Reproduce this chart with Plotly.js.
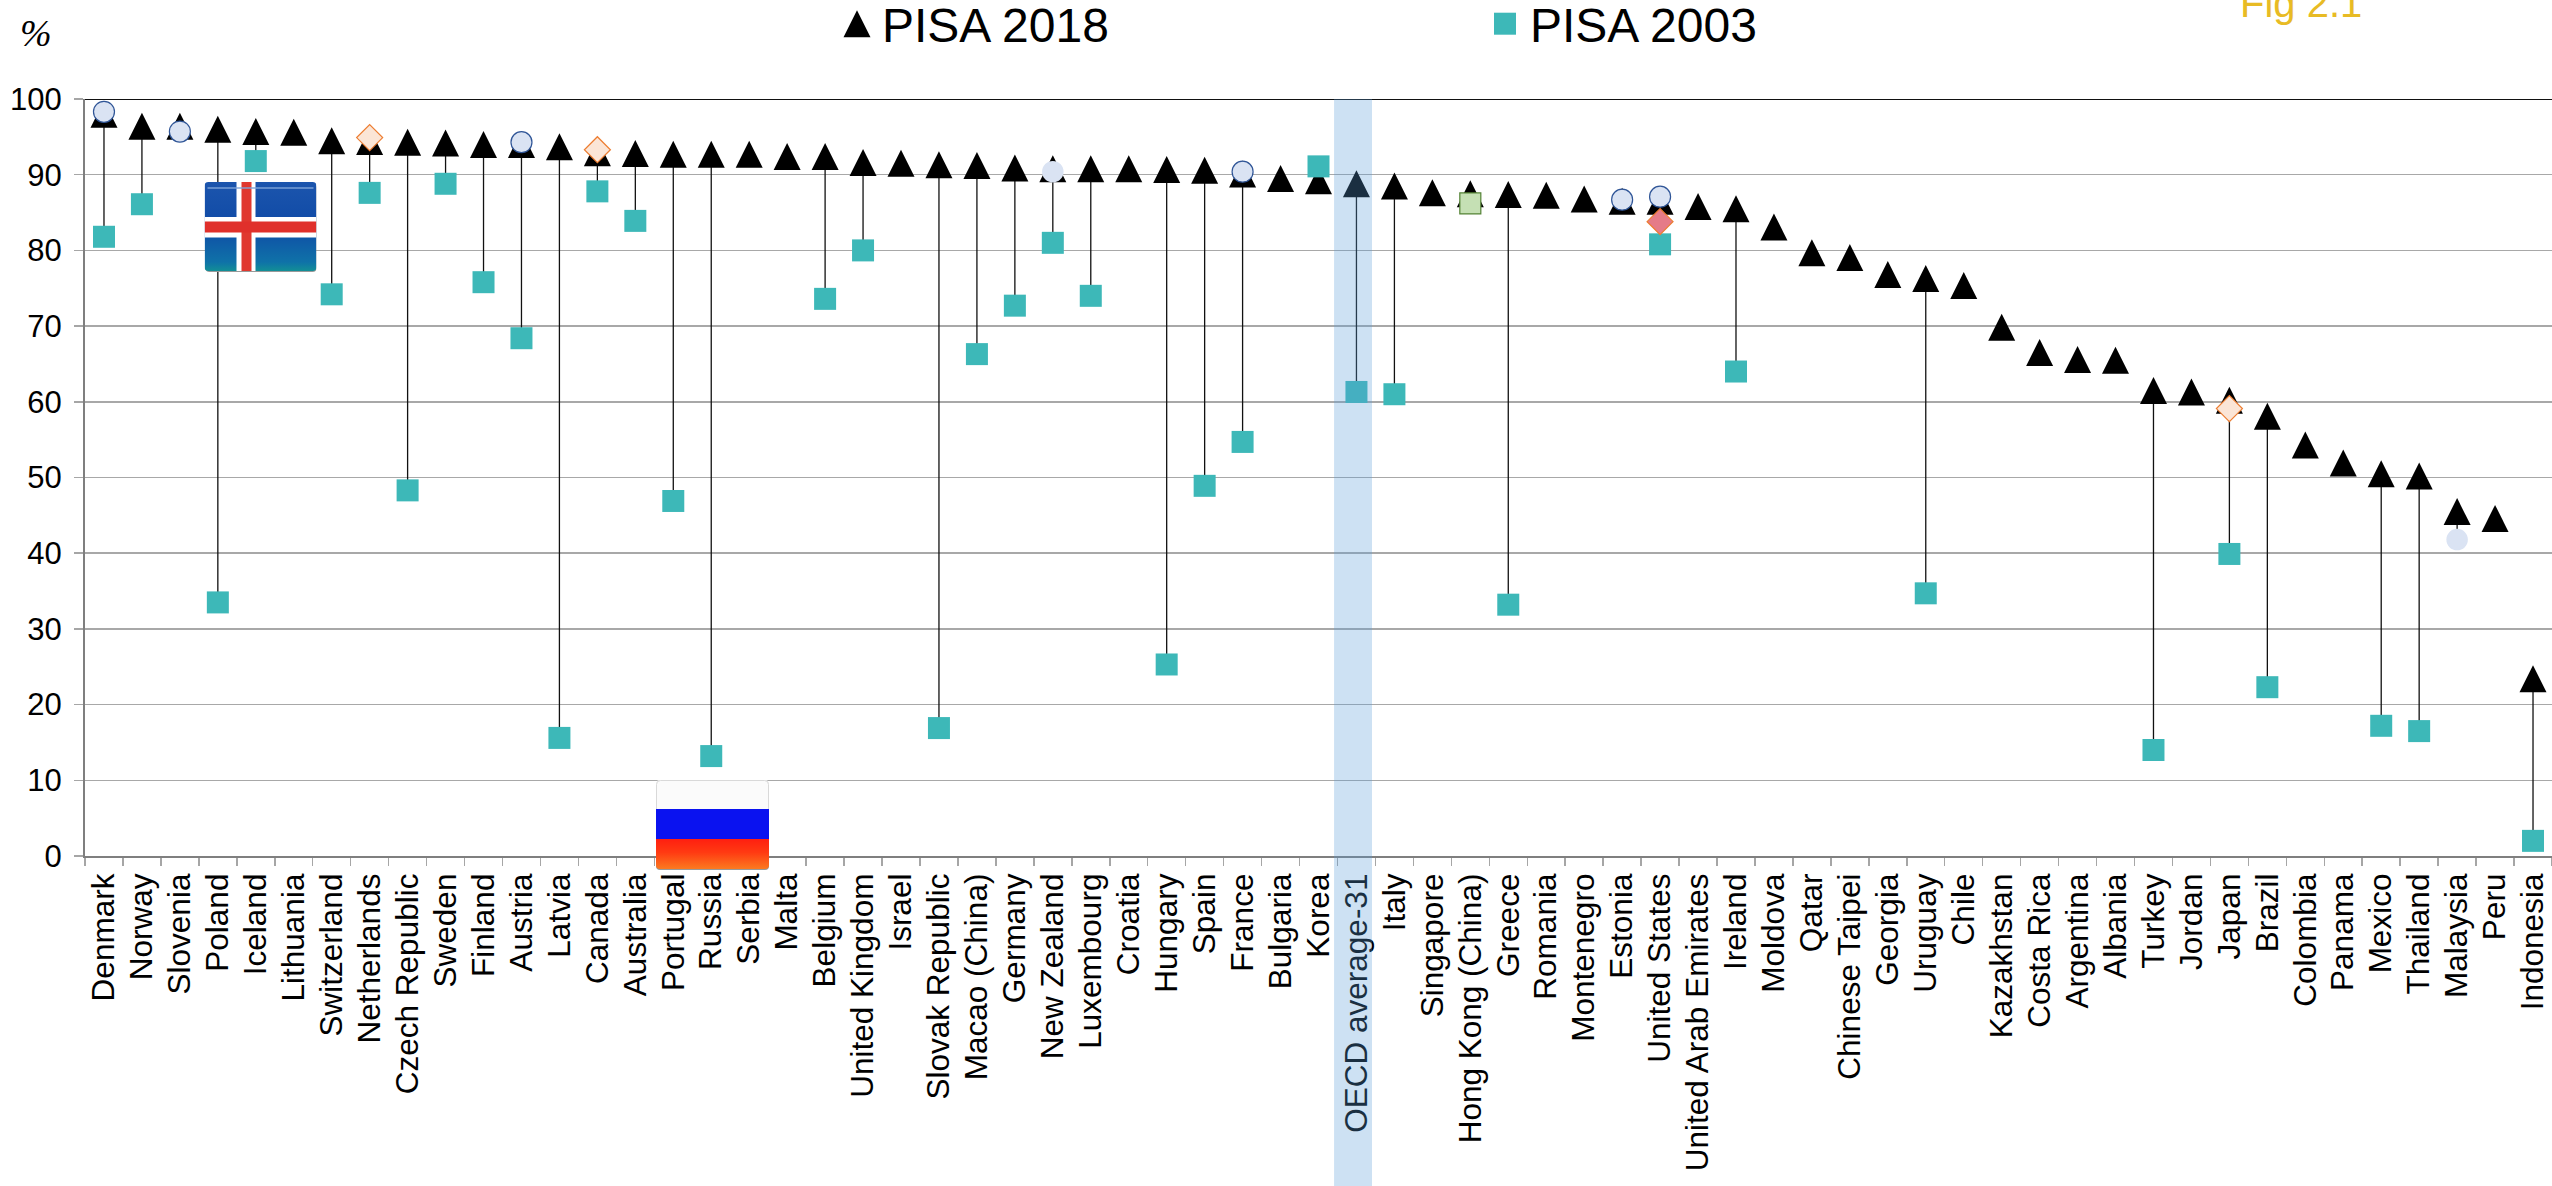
<!DOCTYPE html>
<html>
<head>
<meta charset="utf-8">
<script src="https://cdn.plot.ly/plotly-3.0.1.min.js"></script>
<style>html,body{margin:0;padding:0;background:#fff;overflow:hidden}#chart{width:2552px;height:1186px}</style>
</head>
<body>
<div id="chart"></div>
<script>
const countries = ["Denmark","Norway","Slovenia","Poland","Iceland","Lithuania","Switzerland","Netherlands","Czech Republic","Sweden","Finland","Austria","Latvia","Canada","Australia","Portugal","Russia","Serbia","Malta","Belgium","United Kingdom","Israel","Slovak Republic","Macao (China)","Germany","New Zealand","Luxembourg","Croatia","Hungary","Spain","France","Bulgaria","Korea","OECD average-31","Italy","Singapore","Hong Kong (China)","Greece","Romania","Montenegro","Estonia","United States","United Arab Emirates","Ireland","Moldova","Qatar","Chinese Taipei","Georgia","Uruguay","Chile","Kazakhstan","Costa Rica","Argentina","Albania","Turkey","Jordan","Japan","Brazil","Colombia","Panama","Mexico","Thailand","Malaysia","Peru","Indonesia"];
const pisa2018 = [98.0,96.4,96.4,96.0,95.7,95.6,94.5,94.4,94.3,94.2,94.0,94.0,93.7,92.9,92.8,92.7,92.7,92.7,92.4,92.4,91.6,91.5,91.3,91.2,90.9,90.8,90.8,90.8,90.7,90.6,90.1,89.5,89.2,88.8,88.5,87.6,87.5,87.4,87.3,86.8,86.5,86.5,85.8,85.5,83.1,79.7,79.05,76.8,76.3,75.35,69.85,66.5,65.6,65.5,61.5,61.3,60.2,58.1,54.3,51.9,50.5,50.2,45.5,44.6,23.4];
const pisa2003 = [81.8,86.1,null,33.5,91.8,null,74.2,87.6,48.3,88.8,75.8,68.4,15.6,87.8,83.9,46.9,13.2,null,null,73.6,80.0,null,16.9,66.3,72.7,81.0,74.0,null,25.3,48.9,54.7,null,91.1,61.3,61.0,null,null,33.2,null,null,null,80.8,null,64.0,null,null,null,null,34.7,null,null,null,null,null,14.0,null,39.9,22.3,null,null,17.2,16.5,null,null,2.0];
// lower end of each significance stem (null = no stem drawn)
const stemLow = [81.8,86.1,null,33.5,91.8,null,74.2,87.6,48.3,88.8,75.8,68.4,15.6,87.8,83.9,46.9,13.2,null,null,73.6,80.0,null,16.9,66.3,72.7,81.0,74.0,null,25.3,48.9,54.7,null,null,61.3,61.0,null,null,33.2,null,null,null,null,null,64.0,null,null,null,null,34.7,null,null,null,null,null,14.0,null,39.9,22.3,null,null,17.2,16.5,41.8,null,2.0];

const outlinedCircleNames = ["Denmark","Slovenia","Austria","France","Estonia","United States"];
const outlinedCircleValues = [98.3,95.7,94.3,90.4,86.7,87.1];
const plainCircleNames = ["New Zealand","Malaysia"];
const plainCircleValues = [90.4,41.8];
const paleDiamondNames = ["Netherlands","Canada","Japan"];
const paleDiamondValues = [94.9,93.3,59.1];
const pinkDiamondNames = ["United States"];
const pinkDiamondValues = [83.8];
const greenSquareNames = ["Hong Kong (China)"];
const greenSquareValues = [86.2];
const yTicks = [0,10,20,30,40,50,60,70,80,90,100];

const FONT = '"Liberation Sans", Arial, sans-serif';

const stemX = [], stemY = [];
countries.forEach((c,i)=>{ if(stemLow[i]!==null){ stemX.push(c,c,null); stemY.push(pisa2018[i],stemLow[i],null);} });

function overlay(x,y,symbol,size,fill,lineColor,lineWidth){
  return {type:'scatter',mode:'markers',x:x,y:y,showlegend:false,hoverinfo:'skip',cliponaxis:false,
    marker:{symbol:symbol,size:size,color:fill,line:{color:lineColor,width:lineWidth}}};
}
const traces = [
  {type:'scatter',mode:'lines',x:stemX,y:stemY,showlegend:false,hoverinfo:'skip',line:{color:'#111',width:1.3}},
  {type:'scatter',mode:'markers',name:'PISA 2018',x:countries,y:pisa2018,cliponaxis:false,
    marker:{symbol:'triangle-up',size:23.4,color:'#000'}},
  {type:'scatter',mode:'markers',name:'PISA 2003',x:countries,y:pisa2003,cliponaxis:false,
    marker:{symbol:'square',size:22,color:'#3db8b8'}},
  overlay(outlinedCircleNames,outlinedCircleValues,'circle',21,'#dae3f3','#2f5597',1.2),
  overlay(plainCircleNames,plainCircleValues,'circle',21.5,'#dae3f3','#dae3f3',0),
  overlay(paleDiamondNames,paleDiamondValues,'diamond',20,'#fbe5d6','#ed7d31',1.2),
  overlay(pinkDiamondNames,pinkDiamondValues,'diamond',20,'#e57b88','#ed7d31',1.2),
  overlay(greenSquareNames,greenSquareValues,'square',21,'#c5e0b4','#548235',1.2)
];

function svgUri(s){ return 'data:image/svg+xml;charset=utf-8,'+encodeURIComponent(s); }
const icelandFlag = svgUri(`<svg xmlns="http://www.w3.org/2000/svg" width="112" height="90" viewBox="0 0 112 90">
<defs><linearGradient id="b" x1="0" y1="0" x2="0" y2="1"><stop offset="0" stop-color="#1c55ad"/><stop offset="0.5" stop-color="#0f4aa6"/><stop offset="0.9" stop-color="#0f72a8"/><stop offset="1" stop-color="#128f96"/></linearGradient>
<clipPath id="c"><rect x="0" y="0" width="112" height="89" rx="4"/></clipPath></defs>
<rect x="1" y="2" width="111" height="88" rx="4" fill="#999"/>
<g clip-path="url(#c)"><rect width="112" height="89" fill="url(#b)"/>
<rect x="32" width="19" height="89" fill="#fff"/><rect y="35" width="112" height="20.5" fill="#fff"/>
<rect x="37" width="10" height="89" fill="#e0382f"/><rect y="39.5" width="112" height="11" fill="#e0302b"/>
<rect x="3" y="5" width="106" height="2" fill="#7fa4d8" opacity="0.7"/></g></svg>`);
const russiaFlag = svgUri(`<svg xmlns="http://www.w3.org/2000/svg" width="113" height="90" viewBox="0 0 113 90">
<defs><linearGradient id="r" x1="0" y1="0" x2="0" y2="1"><stop offset="0" stop-color="#ff1f10"/><stop offset="0.45" stop-color="#ff3a12"/><stop offset="1" stop-color="#fb7a20"/></linearGradient>
<clipPath id="c"><rect x="0" y="0" width="113" height="89" rx="4"/></clipPath></defs>
<rect x="0" y="1" width="113" height="89" rx="4" fill="#999"/>
<g clip-path="url(#c)"><rect width="113" height="30" fill="#fbfbfb"/><rect y="29" width="113" height="30" fill="#0a12f0"/><rect y="59" width="113" height="30" fill="url(#r)"/></g>
<path d="M0.5,29V4.5a4,4 0 0 1 4,-4H108.5a4,4 0 0 1 4,4V29" fill="none" stroke="#d9d9d9" stroke-width="1"/></svg>`);

const PLOT = {l:85,t:99,w:2467,h:757};
const px = x => (x-PLOT.l)/PLOT.w;
const py = y => (PLOT.t+PLOT.h-y)/PLOT.h;

const layout = {
  width:2552,height:1186,
  margin:{l:85,r:0,t:99,b:330,pad:0},
  paper_bgcolor:'#fff',plot_bgcolor:'#fff',
  font:{family:FONT,color:'#000',size:31},
  xaxis:{type:'category',categoryorder:'array',categoryarray:countries,range:[-0.5,64.5],dtick:1,
    tickson:'boundaries',ticks:'outside',ticklen:8,tickwidth:1.5,tickcolor:'#a6a6a6',
    tickangle:-90,tickfont:{family:FONT,size:31.5,color:'#000'},ticklabelstandoff:3,
    showgrid:false,showline:true,linecolor:'#7f7f7f',linewidth:2,zeroline:false,automargin:false,fixedrange:true},
  yaxis:{range:[0,100],tickmode:'array',tickvals:yTicks,ticktext:yTicks.map(String),
    ticks:'outside',ticklen:9,tickwidth:1.5,tickcolor:'#a6a6a6',
    tickfont:{family:FONT,size:31,color:'#000'},ticklabelstandoff:6,
    showgrid:true,gridcolor:'#a8a8a8',gridwidth:1.5,showline:true,linecolor:'#7f7f7f',linewidth:2,zeroline:false,automargin:false,fixedrange:true},
  showlegend:true,
  legend:{orientation:'h',x:px(832),xanchor:'left',y:py(0),yanchor:'top',bgcolor:'rgba(0,0,0,0)',
    font:{family:FONT,size:48,color:'#000'},entrywidth:593,entrywidthmode:'pixels',itemwidth:40,traceorder:'normal',itemclick:false,itemdoubleclick:false},
  shapes:[
    {type:'line',xref:'paper',yref:'y',x0:0,x1:1,y0:100,y1:100,line:{color:'#111',width:2},layer:'above'},
    {type:'rect',xref:'x',yref:'paper',x0:32.41,x1:33.41,y0:py(1186),y1:1,fillcolor:'rgba(89,156,215,0.30)',line:{width:0},layer:'above'}
  ],
  images:[
    {source:icelandFlag,xref:'paper',yref:'paper',x:px(204.5),y:py(182),sizex:112/PLOT.w,sizey:90/PLOT.h,sizing:'stretch',xanchor:'left',yanchor:'top',layer:'above'},
    {source:russiaFlag,xref:'paper',yref:'paper',x:px(656),y:py(780),sizex:113/PLOT.w,sizey:90/PLOT.h,sizing:'stretch',xanchor:'left',yanchor:'top',layer:'above'}
  ],
  annotations:[
    {text:'%',xref:'paper',yref:'paper',x:px(18),y:py(10),xanchor:'left',yanchor:'top',showarrow:false,align:'left',
      font:{family:'"Liberation Serif", serif',size:38,color:'#000',style:'italic'}},
    {text:'Fig 2.1',xref:'paper',yref:'paper',x:px(2238),y:py(27),xanchor:'left',yanchor:'bottom',showarrow:false,align:'left',
      font:{family:FONT,size:40,color:'#e8bb24'}}
  ]
};

Plotly.newPlot('chart',traces,layout,{displayModeBar:false,staticPlot:true}).then(gd=>{
  gd.querySelectorAll('path').forEach(p=>{
    const d=p.getAttribute('d')||'';
    const t=p.getAttribute('transform')||'';
    const inLegend=!!p.closest('.legend');
    if(/^M-[\d.]+,[\d.]+H[\d.]+L0,-[\d.]+Z$/.test(d)){
      // stretch the library's flat triangle to the reference's 27x27 shape, whatever size it was drawn at
      const r=parseFloat(d.match(/L0,-([\d.]+)Z/)[1]);
      const sx=13.5/(r*2/Math.sqrt(3)), sy=27/(1.5*r);
      p.setAttribute('transform',t+' translate(0,4.5) scale('+sx+','+sy+')');
    } else if(inLegend && /^M[\d.-]+,[\d.-]+H/.test(d) && p.closest('.legendpoints')){
      const r=parseFloat(d.match(/^M([\d.]+),/)[1]);
      if(r>0) p.setAttribute('transform',t+' scale('+(11/r)+')');
    }
  });
  const lg=gd.querySelector('.legend');
  if(lg){
    const m=/translate\(([-\d.]+),\s*([-\d.]+)\)/.exec(lg.getAttribute('transform')||'');
    if(m) lg.setAttribute('transform','translate('+m[1]+','+(parseFloat(m[2])-14)+')');
  }
});
</script>
</body>
</html>
